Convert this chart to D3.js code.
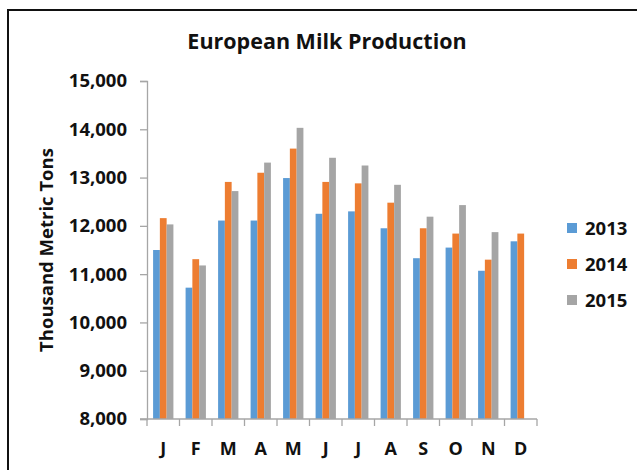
<!DOCTYPE html>
<html><head><meta charset="utf-8">
<script src="https://cdn.jsdelivr.net/npm/d3@7"></script>
<style>body{margin:0;background:#fff}svg{display:block}text{font-family:"Open Sans",sans-serif;font-weight:bold;fill:#111}</style>
</head><body><svg id="c" width="637" height="470"></svg>
<script>
const months = ["J","F","M","A","M","J","J","A","S","O","N","D"];
const years = ["2013","2014","2015"];
const v2013 = [11500,10720,12110,12110,12990,12250,12300,11950,11330,11550,11070,11680];
const v2014 = [12160,11310,12910,13100,13600,12910,12880,12480,11950,11840,11300,11840];
const v2015 = [12030,11180,12720,13310,14030,13410,13250,12850,12190,12430,11870,null];
const yTicks = [8000,9000,10000,11000,12000,13000,14000,15000];
const colors = ["#5B9BD5","#ED7D31","#A5A5A5"];
const series = [v2013, v2014, v2015];

const svg = d3.select("#c");
// outer frame
svg.append("rect").attr("x",8).attr("y",10).attr("width",660).attr("height",480)
  .attr("fill","none").attr("stroke","#111").attr("stroke-width",2);

const L=147, R=537, T=81, B=419;
const x0 = d3.scaleBand().domain(d3.range(months.length)).range([L,R]).padding(0);
const grp = x0.bandwidth()*0.625;
const x1 = d3.scaleBand().domain(d3.range(3)).range([0,grp]);
const y = d3.scaleLinear().domain([8000,15000]).range([B,T]);

// bars
series.forEach((s,si)=>{
  svg.append("g").selectAll("rect").data(s.map((v,i)=>({v,i})).filter(d=>d.v!=null))
    .join("rect")
    .attr("x",d=>x0(d.i)+(x0.bandwidth()-grp)/2+x1(si))
    .attr("width",x1.bandwidth())
    .attr("y",d=>y(d.v)).attr("height",d=>B-y(d.v))
    .attr("fill",colors[si]);
});

const axisColor="#a6a6a6";
// y axis
const ya = svg.append("g").attr("transform",`translate(${L},0)`)
  .call(d3.axisLeft(y).tickValues(yTicks).tickSize(7).tickPadding(13).tickFormat(d3.format(",")));
ya.select(".domain").attr("stroke",axisColor).attr("stroke-width",1.3);
ya.selectAll(".tick line").attr("stroke",axisColor).attr("stroke-width",1.3);
ya.selectAll("text").style("font-size","18.5px").attr("fill","#111");

// x axis with ticks at category boundaries
const xa = svg.append("g").attr("transform",`translate(0,${B})`);
xa.append("line").attr("x1",L-7).attr("x2",R).attr("stroke",axisColor).attr("stroke-width",1.3);
xa.selectAll("line.tk").data(d3.range(months.length+1)).join("line").attr("class","tk")
  .attr("x1",i=>L+i*x0.bandwidth()).attr("x2",i=>L+i*x0.bandwidth())
  .attr("y1",0).attr("y2",7).attr("stroke",axisColor).attr("stroke-width",1.3);
xa.selectAll("text").data(months).join("text")
  .attr("x",(d,i)=>x0(i)+x0.bandwidth()/2).attr("y",36)
  .attr("text-anchor","middle").style("font-size","18px").text(d=>d);

// title
svg.append("text").attr("x",327).attr("y",49).attr("text-anchor","middle")
  .style("font-size","21.5px").text("European Milk Production");

// y title
svg.append("text").attr("transform","translate(53,250) rotate(-90)").attr("text-anchor","middle")
  .style("font-size","18.5px").text("Thousand Metric Tons");

// legend
const lg = svg.append("g");
years.forEach((yr,i)=>{
  const cy = 228 + i*36;
  lg.append("rect").attr("x",567).attr("y",cy-5).attr("width",10).attr("height",10).attr("fill",colors[i]);
  lg.append("text").attr("x",585).attr("y",cy+6.5).style("font-size","18.5px").text(yr);
});
</script></body></html>
